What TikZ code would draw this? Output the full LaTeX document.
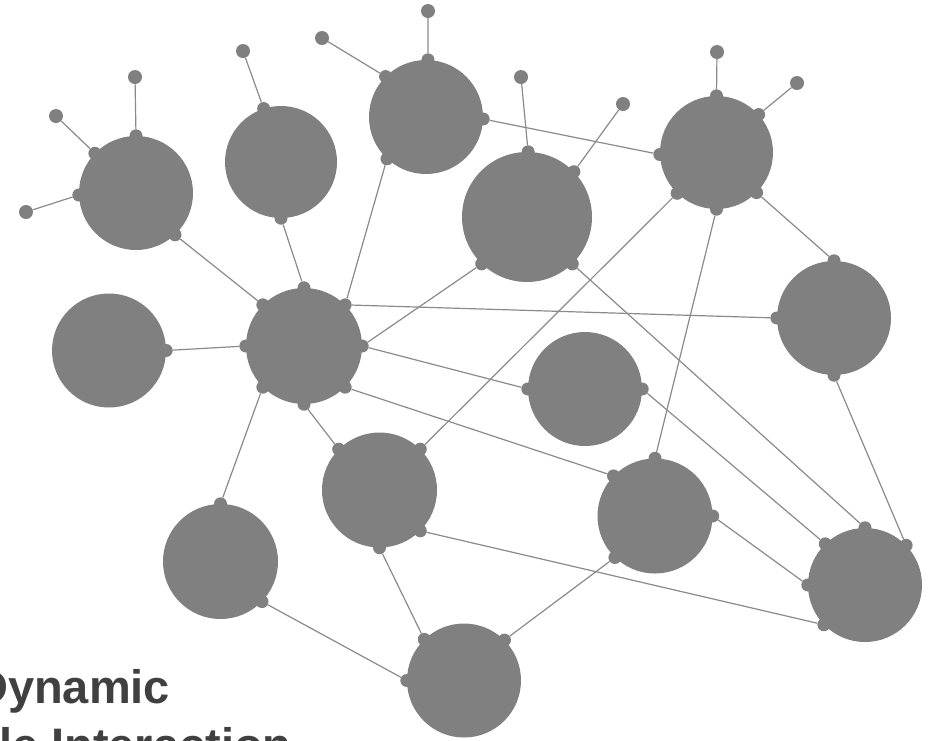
\documentclass[tikz,border=0pt]{standalone}
\usepackage{fontspec}
\setmainfont{Liberation Sans}
\usetikzlibrary{backgrounds}
\definecolor{molgray}{HTML}{808080}
\definecolor{linkgray}{HTML}{8A8A8A}
\definecolor{txtgray}{HTML}{404040}
\begin{document}
\begin{tikzpicture}[x=1pt,y=-1pt,
  mol/.style={circle,fill=molgray,draw=none,inner sep=0pt,minimum size=#1},
  port/.style={circle,fill=molgray,draw=none,inner sep=0pt,minimum size=13pt},
  enddot/.style={circle,fill=molgray,draw=none,inner sep=0pt,minimum size=14pt},
  link/.style={draw=linkgray,line width=1.2pt},
  title/.style={anchor=base west,text=txtgray,inner sep=0pt,font=\bfseries\fontsize{47}{56}\selectfont}]
\useasboundingbox (0,0) rectangle (937,740);
\clip (0,0) rectangle (937,740);
% molecules
\node[mol=114pt] (A) at (136,193) {};
\node[mol=112pt] (B) at (281,162) {};
\node[mol=114pt] (C) at (426,117) {};
\node[mol=130pt] (D) at (527,217) {};
\node[mol=113pt] (E) at (716.5,152.5) {};
\node[mol=114pt] (F) at (834,318) {};
\node[mol=114pt] (G) at (109,350.5) {};
\node[mol=116pt] (H) at (304,346) {};
\node[mol=114pt] (I) at (585,389) {};
\node[mol=115pt] (J) at (379.5,490) {};
\node[mol=115pt] (K) at (655,516) {};
\node[mol=115pt] (L) at (220.5,561.5) {};
\node[mol=114pt] (M) at (865,585) {};
\node[mol=114pt] (N) at (464,680.5) {};
% ports
\foreach \m/\g in {A/90,A/136,A/182,A/313,B/108,B/270,C/88,C/135,C/358,C/227,
  D/89,D/44,D/226,D/314,E/90,E/42,E/182,E/226,E/270,E/315,F/90,F/180,F/270,G/0,
  H/0,H/45,H/90,H/135,H/180,H/225,H/270,H/315,I/0,I/180,J/45,J/135,J/270,J/315,
  K/90,K/136,K/0,K/226,L/90,L/316,M/90,M/134,M/44,M/180,M/224,N/134,N/45,N/180}
  \node[port] (\m-\g) at (\m.\g) {};
% free ends
\node[enddot] (a1) at (135,77) {};
\node[enddot] (a2) at (56,116) {};
\node[enddot] (a3) at (26,212) {};
\node[enddot] (b1) at (243,51) {};
\node[enddot] (c1) at (428,11) {};
\node[enddot] (c2) at (322,38) {};
\node[enddot] (d1) at (521,77) {};
\node[enddot] (d2) at (623,104) {};
\node[enddot] (e1) at (717,52) {};
\node[enddot] (e2) at (797,83) {};
\begin{scope}[on background layer]
  \draw[link] (A-90) -- (a1);
  \draw[link] (A-136) -- (a2);
  \draw[link] (A-182) -- (a3);
  \draw[link] (B-108) -- (b1);
  \draw[link] (C-88) -- (c1);
  \draw[link] (C-135) -- (c2);
  \draw[link] (D-89) -- (d1);
  \draw[link] (D-44) -- (d2);
  \draw[link] (E-90) -- (e1);
  \draw[link] (E-42) -- (e2);
  \draw[link] (A-313) -- (H-135);
  \draw[link] (B-270) -- (H-90);
  \draw[link] (C-227) -- (H-45);
  \draw[link] (C-358) -- (E-182);
  \draw[link] (D-226) -- (H-0);
  \draw[link] (D-314) -- (M-90);
  \draw[link] (E-226) -- (J-45);
  \draw[link] (E-270) -- (K-90);
  \draw[link] (E-315) -- (F-90);
  \draw[link] (F-180) -- (H-45);
  \draw[link] (F-270) -- (M-44);
  \draw[link] (G-0) -- (H-180);
  \draw[link] (H-0) -- (I-180);
  \draw[link] (H-315) -- (K-136);
  \draw[link] (H-225) -- (L-90);
  \draw[link] (H-270) -- (J-135);
  \draw[link] (I-0) -- (M-134);
  \draw[link] (J-315) -- (M-224);
  \draw[link] (J-270) -- (N-134);
  \draw[link] (K-0) -- (M-180);
  \draw[link] (K-226) -- (N-45);
  \draw[link] (L-316) -- (N-180);
\end{scope}
% title (cut off at the left and bottom edges, as in the reference)
\node[title] (t1) at (-26,703) {Dynamic};
\node[title] (t2) at (-1,761) {le Interaction};
\end{tikzpicture}
\end{document}
